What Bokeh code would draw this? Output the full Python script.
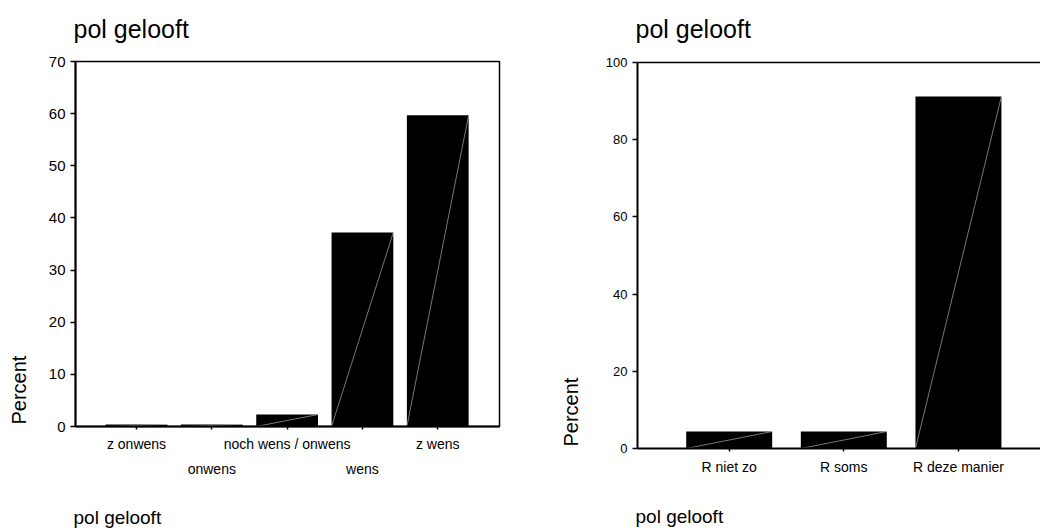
from bokeh.plotting import figure
from bokeh.models import FixedTicker, LinearAxis, Title, Range1d, ColumnDataSource
from bokeh.layouts import row, column
from bokeh.embed import file_html
from bokeh.resources import INLINE

FONT = "Liberation Sans"

left_categories = ["z onwens", "onwens", "noch wens / onwens", "wens", "z wens"]
left_values = [0.4, 0.4, 2.3, 37.2, 59.7]
left_yticks = [0, 10, 20, 30, 40, 50, 60, 70]

right_categories = ["R niet zo", "R soms", "R deze manier"]
right_values = [4.4, 4.4, 91.2]
right_yticks = [0, 20, 40, 60, 80, 100]

title_text = "pol gelooft"
x_label = "pol gelooft"
y_label = "Percent"


def style_axis(ax, size):
    ax.axis_line_color = "black"
    ax.axis_line_width = 2
    ax.major_tick_line_color = "black"
    ax.major_tick_line_width = 1.5
    ax.minor_tick_line_color = None
    ax.minor_tick_out = 0
    ax.major_label_text_font = FONT
    ax.major_label_text_font_size = size
    ax.major_label_text_color = "black"


def spacer(size, tick, line_color=None):
    # an invisible axis used only to reserve space in a side panel
    ax = LinearAxis(ticker=FixedTicker(ticks=[tick]))
    ax.axis_line_color = line_color
    ax.axis_line_width = 1.5
    ax.major_tick_line_color = None
    ax.minor_tick_line_color = None
    ax.major_tick_out = size
    ax.major_tick_in = 0
    ax.minor_tick_out = 0
    ax.minor_tick_in = 0
    ax.major_label_standoff = 0
    ax.major_label_text_font_size = "0px"
    ax.major_label_text_color = None
    ax.major_label_overrides = {tick: ""}
    return ax


def ttl(text, size, standoff, offset=0):
    return Title(text=text, align="left", text_font=FONT, text_font_size=size,
                 text_font_style="normal", text_color="black", standoff=standoff,
                 offset=offset)


def make_panel(cats, vals, yticks, ymax, width, height, borders, xr, bar_w,
               stagger, full_outline, ysize, xt_standoff, x2_standoff, sp):
    ml, mr, mt, mb = borders
    top_sp, bot_sp, left_sp, pct_standoff = sp
    p = figure(width=width, height=height, output_backend="svg", toolbar_location=None,
               x_range=Range1d(*xr), y_range=Range1d(0, ymax),
               min_border_left=ml, min_border_right=mr, min_border_top=mt,
               min_border_bottom=mb, x_axis_type=None, y_axis_type=None)
    p.background_fill_color = "white"
    p.border_fill_color = "white"
    if full_outline:
        p.outline_line_color = "black"
        p.outline_line_width = 1.5
    else:
        p.outline_line_color = None

    xs = list(range(len(cats)))
    src = ColumnDataSource(dict(
        x=xs, top=vals,
        x0=[x - bar_w / 2 for x in xs], y0=[0] * len(xs),
        x1=[x + bar_w / 2 for x in xs], y1=vals))
    p.vbar(x="x", top="top", width=bar_w, bottom=0, source=src,
           fill_color="black", line_color=None)
    p.segment(x0="x0", y0="y0", x1="x1", y1="y1", source=src,
              line_color="#c8c8c8", line_width=0.6)

    # y axis + "Percent"
    yax = LinearAxis(ticker=FixedTicker(ticks=yticks))
    style_axis(yax, ysize)
    yax.major_tick_out = 5
    yax.major_tick_in = 0
    yax.major_label_standoff = 5
    p.add_layout(yax, "left")
    if left_sp > 0:
        p.add_layout(spacer(left_sp, yticks[1]), "left")
    p.add_layout(ttl(y_label, "20px", pct_standoff, 2), "left")

    # x axis (row 1)
    xax = LinearAxis(ticker=FixedTicker(ticks=xs))
    style_axis(xax, "14px")
    xax.major_tick_out = 3
    xax.major_tick_in = 0
    xax.major_label_standoff = xt_standoff
    if stagger:
        xax.major_label_overrides = {i: (c if i % 2 == 0 else "") for i, c in enumerate(cats)}
    else:
        xax.major_label_overrides = {i: c for i, c in enumerate(cats)}
    p.add_layout(xax, "below")

    if stagger:
        xax2 = LinearAxis(ticker=FixedTicker(ticks=[i for i in xs if i % 2 == 1]))
        style_axis(xax2, "14px")
        xax2.axis_line_color = None
        xax2.major_tick_line_color = None
        xax2.major_tick_out = 0
        xax2.major_tick_in = 0
        xax2.major_label_standoff = x2_standoff
        xax2.major_label_overrides = {i: c for i, c in enumerate(cats) if i % 2 == 1}
        p.add_layout(xax2, "below")
    p.add_layout(spacer(bot_sp, xs[0]), "below")
    p.add_layout(ttl(x_label, "19px", 0, -2), "below")

    # top: spacer (top frame line for the open panel) + title
    p.add_layout(spacer(top_sp, xs[0], None if full_outline else "black"), "above")
    p.add_layout(ttl(title_text, "25px", 20, -2), "above")
    return p


# sp: top spacer, bottom spacer, left spacer, Percent standoff
left = make_panel(left_categories, left_values, left_yticks, 70, 520, 528,
                  (75, 21, 61, 102), (-0.81, 4.82), 0.82, True, True, "15px",
                  6, 6, (9, 25, 11, 10))
right = make_panel(right_categories, right_values, right_yticks, 100, 520, 528,
                   (117, 0, 62, 80), (-0.80, 2.716), 0.75, False, False, "13px",
                   7, 0, (10, 26, 0, 41))

layout = row(column(left), column(right))
open("out.html", "w").write(file_html(layout, INLINE))
